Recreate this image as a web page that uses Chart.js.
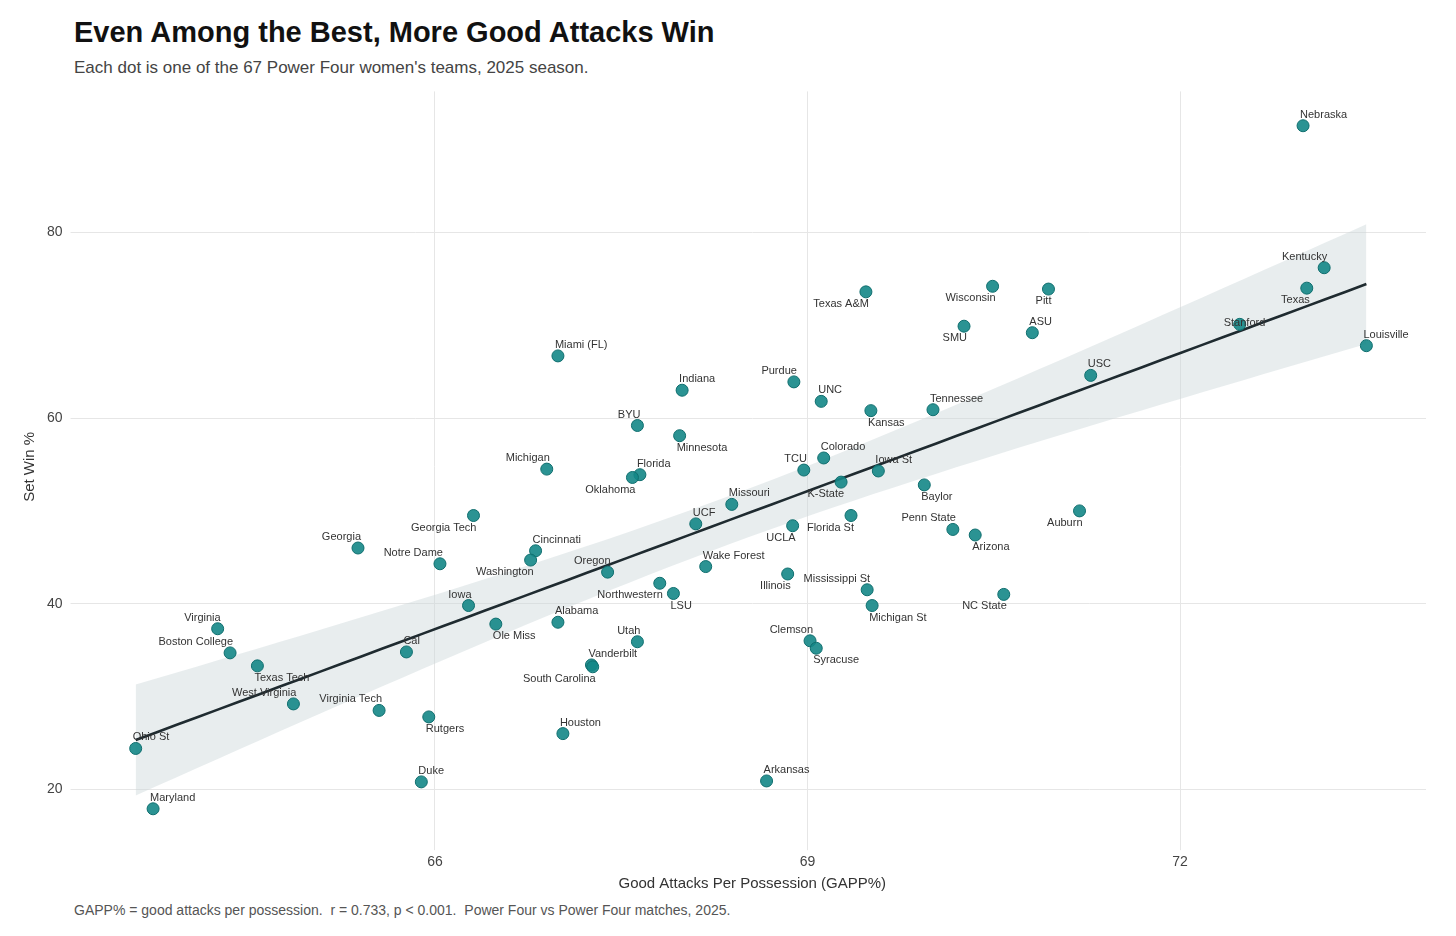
<!DOCTYPE html>
<html>
<head>
<meta charset="utf-8">
<script src="https://cdn.jsdelivr.net/npm/chart.js@4"></script>
<style>
  body { margin: 0; background: #fff; font-family: "Liberation Sans", Arial, sans-serif; }
  #wrap { position: relative; width: 1456px; height: 936px; }
  .title { position: absolute; left: 74px; top: 16px; font-size: 29px; font-weight: bold; color: #111; }
  .sub { position: absolute; left: 74px; top: 58px; font-size: 17px; color: #444; }
  .foot { position: absolute; left: 74px; top: 902px; font-size: 14px; color: #555; }
  #box { position: absolute; left: 0; top: 75px; width: 1456px; height: 818px; }
</style>
</head>
<body>
<div id="wrap">
  <div class="title">Even Among the Best, More Good Attacks Win</div>
  <div class="sub">Each dot is one of the 67 Power Four women's teams, 2025 season.</div>
  <div id="box"><canvas id="c"></canvas></div>
  <div class="foot">GAPP% = good attacks per possession.&nbsp; r = 0.733, p &lt; 0.001.&nbsp; Power Four vs Power Four matches, 2025.</div>
</div>
<script>
const teams = ["Nebraska","Kentucky","Texas","Stanford","Louisville","USC","Pitt","Wisconsin","ASU","SMU",
  "Texas A&M","Tennessee","Kansas","Auburn","Penn State","Arizona","NC State","Baylor","Iowa St","K-State",
  "Colorado","TCU","Florida St","UCLA","UNC","Purdue","Mississippi St","Michigan St","Illinois","Clemson",
  "Syracuse","Arkansas","Missouri","UCF","Wake Forest","Indiana","Minnesota","BYU","Florida","Oklahoma",
  "Miami (FL)","Michigan","Northwestern","LSU","Utah","Oregon","Vanderbilt","South Carolina","Houston","Alabama",
  "Cincinnati","Washington","Georgia Tech","Ole Miss","Iowa","Notre Dame","Georgia","Cal","Rutgers","Duke",
  "Virginia Tech","West Virginia","Texas Tech","Boston College","Virginia","Ohio St","Maryland"];
const gapp = [72.99,73.16,73.02,72.48,73.50,71.28,70.94,70.49,70.81,70.26,
  69.47,70.01,69.51,71.19,70.17,70.35,70.58,69.94,69.57,69.27,
  69.13,68.97,69.35,68.88,69.11,68.89,69.48,69.52,68.84,69.02,
  69.07,68.67,68.39,68.10,68.18,67.99,67.97,67.63,67.65,67.59,
  66.99,66.90,67.81,67.92,67.63,67.39,67.26,67.27,67.03,66.99,
  66.81,66.77,66.31,66.49,66.27,66.04,65.38,65.77,65.95,65.89,
  65.55,64.86,64.57,64.35,64.25,63.59,63.73];
const setWin = [91.5,76.2,74.0,70.1,67.8,64.6,73.9,74.2,69.2,69.9,
  73.6,60.9,60.8,50.0,48.0,47.4,41.0,52.8,54.3,53.1,
  55.7,54.4,49.5,48.4,61.8,63.9,41.5,39.8,43.2,36.0,
  35.2,20.9,50.7,48.6,44.0,63.0,58.1,59.2,53.9,53.6,
  66.7,54.5,42.2,41.1,35.9,43.4,33.4,33.2,26.0,38.0,
  45.7,44.7,49.5,37.8,39.8,44.3,46.0,34.8,27.8,20.8,
  28.5,29.2,33.3,34.7,37.3,24.4,17.9];
const labelSide = ["ne","nw","sw","c","ne","ne","sw","sw","ne","sw",
  "sw","ne","se","sw","nw","se","sw","se","ne","sw",
  "ne","nw","sw","sw","ne","nw","nw","se","sw","nw",
  "se","ne","ne","ne","ne","ne","se","nw","ne","sw",
  "ne","nw","sw","se","nw","nw","ne","sw","ne","ne",
  "ne","sw","sw","se","nw","nw","nw","ne","se","ne",
  "nw","nw","se","nw","nw","ne","ne"];
const xTicks = [66, 69, 72];
const yTicks = [20, 40, 60, 80];

// least squares fit + 95% confidence band
const n = gapp.length;
const mx = gapp.reduce((a, b) => a + b) / n;
const my = setWin.reduce((a, b) => a + b) / n;
let sxx = 0, sxy = 0;
gapp.forEach((x, i) => { sxx += (x - mx) ** 2; sxy += (x - mx) * (setWin[i] - my); });
const slope = sxy / sxx, icpt = my - slope * mx;
let sse = 0;
gapp.forEach((x, i) => { sse += (setWin[i] - (icpt + slope * x)) ** 2; });
const s = Math.sqrt(sse / (n - 2));
const x0 = Math.min(...gapp), x1 = Math.max(...gapp);
const fit = [], lo = [], hi = [];
for (let k = 0; k <= 60; k++) {
  const x = x0 + (x1 - x0) * k / 60;
  const y = icpt + slope * x;
  const se = 1.998 * s * Math.sqrt(1 / n + (x - mx) ** 2 / sxx);
  fit.push({ x, y }); lo.push({ x, y: y - se }); hi.push({ x, y: y + se });
}

const labelPlugin = {
  id: "labels",
  afterDatasetsDraw(chart) {
    const ctx = chart.ctx, meta = chart.getDatasetMeta(3);
    ctx.save();
    ctx.font = "11px 'Liberation Sans', Arial";
    ctx.fillStyle = "#333";
    ctx.textBaseline = "middle";
    meta.data.forEach((pt, i) => {
      const side = labelSide[i];
      let dx = 0, dy = 0;
      if (side === "c") { ctx.textAlign = "left"; dx = -16; dy = -1; }
      else {
        ctx.textAlign = side[1] === "e" ? "left" : "right";
        dx = side[1] === "e" ? -3 : 3;
        dy = side[0] === "n" ? -11 : 12;
      }
      ctx.fillText(teams[i], pt.x + dx, pt.y + dy);
    });
    ctx.restore();
  }
};

new Chart(document.getElementById("c"), {
  type: "scatter",
  data: {
    datasets: [
      { data: hi, showLine: true, pointRadius: 0, borderWidth: 0, fill: false, order: 4 },
      { data: lo, showLine: true, pointRadius: 0, borderWidth: 0, fill: "-1", order: 3,
        backgroundColor: "rgba(203,214,218,0.45)" },
      { data: fit, showLine: true, pointRadius: 0, borderColor: "#1f2b30", borderWidth: 2.6, order: 1 },
      { data: gapp.map((x, i) => ({ x, y: setWin[i] })), pointRadius: 6, order: 0,
        backgroundColor: "rgba(20,135,135,0.9)", borderColor: "#0f6e6e", borderWidth: 1 }
    ]
  },
  options: {
    responsive: true, maintainAspectRatio: false, animation: false,
    layout: { padding: { left: 21, right: 30, top: 9, bottom: 0 } },
    plugins: { legend: { display: false }, tooltip: { enabled: false } },
    scales: {
      x: {
        min: 63.13, max: 73.98,
        afterBuildTicks: a => { a.ticks = xTicks.map(v => ({ value: v })); },
        grid: { color: "#e6e6e6" }, border: { display: false },
        ticks: { color: "#444", font: { size: 14 }, padding: 4 },
        title: { display: true, text: "Good Attacks Per Possession (GAPP%)", color: "#333", font: { size: 15 }, padding: { top: 0, bottom: 0 } }
      },
      y: {
        min: 14.3, max: 95.2,
        afterBuildTicks: a => { a.ticks = yTicks.map(v => ({ value: v })); },
        grid: { color: "#e6e6e6" }, border: { display: false },
        ticks: { color: "#444", font: { size: 14 }, padding: 8 },
        title: { display: true, text: "Set Win %", color: "#333", font: { size: 15 }, padding: 0 }
      }
    }
  },
  plugins: [labelPlugin]
});
</script>
</body>
</html>
